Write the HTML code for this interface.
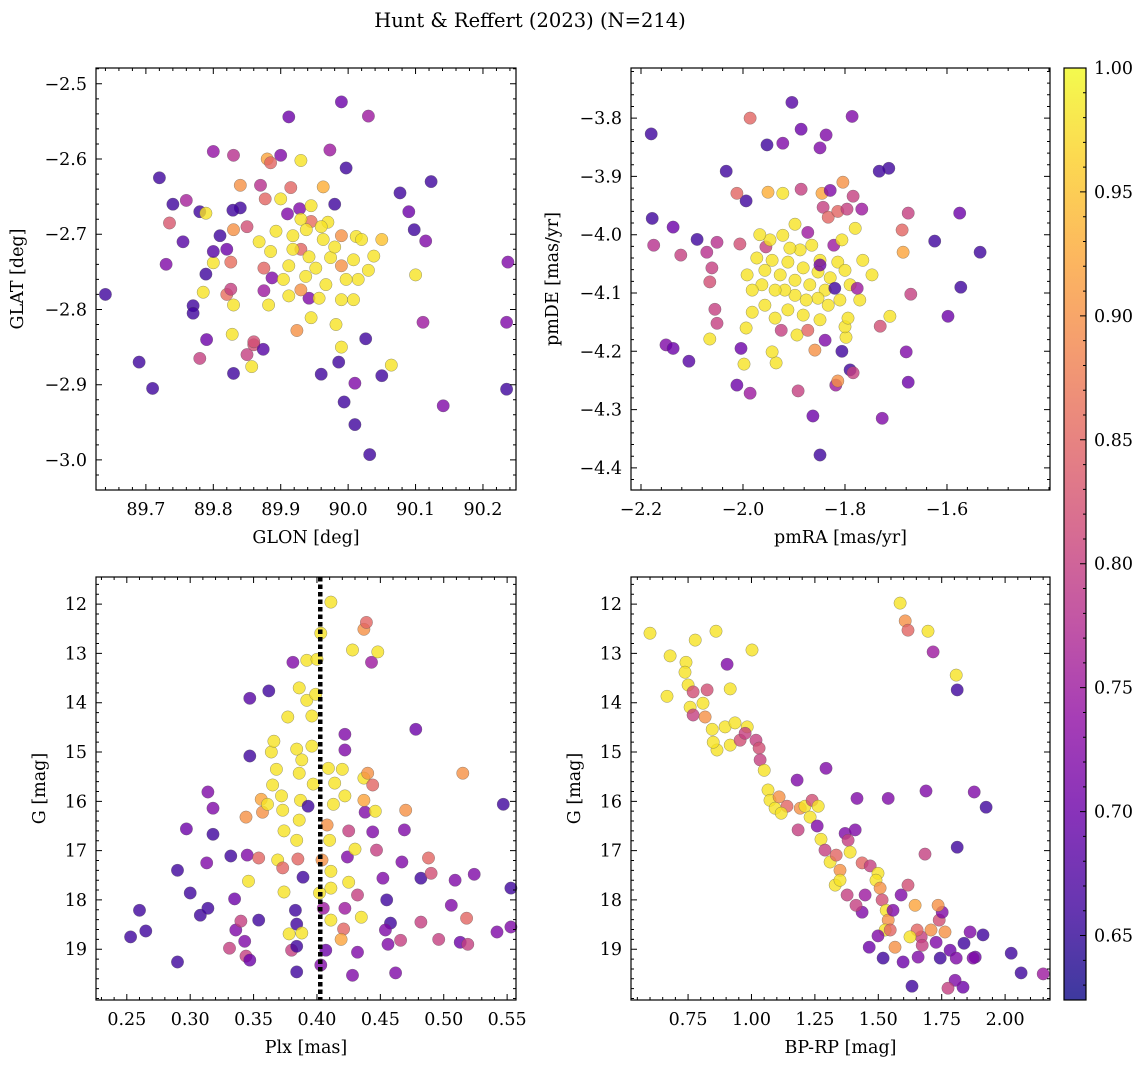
<!DOCTYPE html>
<html><head><meta charset="utf-8">
<style>
html,body{margin:0;padding:0;background:#fff;}
svg{display:block;font-family:"DejaVu Serif","Liberation Serif",serif;}
</style></head>
<body>
<svg id="fig" width="1148" height="1067" viewBox="0 0 1148 1067" xmlns="http://www.w3.org/2000/svg">
<defs>
<linearGradient id="cbgrad" x1="0" y1="1" x2="0" y2="0">
<stop offset="0" stop-color="#0d0887"/><stop offset="0.1" stop-color="#41049d"/><stop offset="0.2" stop-color="#6a00a8"/><stop offset="0.3" stop-color="#8f0da4"/><stop offset="0.4" stop-color="#b12a90"/><stop offset="0.5" stop-color="#cc4778"/><stop offset="0.6" stop-color="#e16462"/><stop offset="0.7" stop-color="#f2844b"/><stop offset="0.8" stop-color="#fca636"/><stop offset="0.9" stop-color="#fcce25"/><stop offset="1" stop-color="#f0f921"/>
</linearGradient>
</defs>
<text x="530" y="27" font-size="19.5" text-anchor="middle">Hunt &amp; Reffert (2023) (N=214)</text>
</svg>
<script>
// ---- Panel 1: GLON / GLAT ----
const p1Glon=[89.64,89.69,89.71,89.72,89.73,89.74,89.735,89.76,89.755,89.77,89.77,89.78,89.80,89.79,89.78,89.82,89.83,89.84,89.83,89.82,89.85,89.87,89.88,89.84,89.885,89.90,89.86,89.874,89.912,89.973,89.99,90.03,89.997,90.077,90.123,90.09,90.098,90.115,90.10,90.111,90.141,90.237,90.235,90.235,90.05,90.064,90.026,90.01,90.01,90.032,89.994,89.986,89.96,89.942,89.963,89.93,89.928,89.90,89.877,89.829,89.789,89.83,89.81,89.85,89.80,89.826,89.789,89.80,89.785,89.826,89.83,89.828,89.857,89.86,89.875,89.887,89.875,89.912,89.924,89.882,89.945,89.982,89.99,90.008,90.015,90.038,90.012,89.99,89.97,89.945,89.93,89.918,89.93,89.963,89.974,89.952,89.937,89.912,89.904,89.99,89.997,89.967,89.99,90.008,90.02,89.957,89.93,89.918,89.942,89.868,89.885,90.05,90.03,89.96,89.98,89.945,89.98,89.91,89.938,89.893,89.915];
const p1Glat=[-2.78,-2.87,-2.905,-2.625,-2.74,-2.66,-2.685,-2.655,-2.71,-2.795,-2.805,-2.865,-2.59,-2.84,-2.67,-2.72,-2.885,-2.665,-2.595,-2.78,-2.86,-2.635,-2.6,-2.635,-2.605,-2.595,-2.847,-2.853,-2.544,-2.588,-2.524,-2.543,-2.612,-2.645,-2.63,-2.67,-2.694,-2.709,-2.754,-2.817,-2.928,-2.737,-2.817,-2.906,-2.888,-2.874,-2.839,-2.898,-2.953,-2.993,-2.923,-2.87,-2.886,-2.785,-2.637,-2.602,-2.666,-2.653,-2.653,-2.668,-2.672,-2.694,-2.702,-2.69,-2.738,-2.737,-2.753,-2.723,-2.777,-2.773,-2.794,-2.833,-2.876,-2.843,-2.775,-2.758,-2.745,-2.782,-2.828,-2.794,-2.811,-2.82,-2.85,-2.787,-2.76,-2.729,-2.703,-2.702,-2.684,-2.683,-2.68,-2.702,-2.72,-2.707,-2.731,-2.745,-2.756,-2.742,-2.76,-2.742,-2.76,-2.767,-2.787,-2.734,-2.707,-2.785,-2.774,-2.72,-2.73,-2.71,-2.723,-2.707,-2.748,-2.69,-2.717,-2.662,-2.66,-2.673,-2.694,-2.696,-2.638];
const p1Prob=[0.66,0.66,0.66,0.66,0.72,0.66,0.83,0.76,0.68,0.66,0.66,0.8,0.74,0.7,0.66,0.7,0.66,0.66,0.78,0.86,0.8,0.78,0.92,0.9,0.85,0.72,0.82,0.68,0.7,0.75,0.7,0.75,0.66,0.66,0.66,0.7,0.66,0.72,0.98,0.75,0.72,0.72,0.72,0.66,0.66,0.98,0.66,0.72,0.66,0.66,0.66,0.66,0.66,0.72,0.93,0.98,0.72,0.98,0.85,0.66,0.98,0.9,0.66,0.82,0.98,0.86,0.66,0.68,0.98,0.8,0.98,0.98,0.98,0.82,0.75,0.72,0.85,0.98,0.9,0.98,0.98,0.98,0.98,0.98,0.98,0.98,0.98,0.9,0.98,0.86,0.98,0.98,0.85,0.98,0.98,0.98,0.98,0.98,0.98,0.9,0.98,0.98,0.98,0.98,0.98,0.98,0.9,0.98,0.98,0.98,0.98,0.95,0.98,0.98,0.98,0.98,0.66,0.72,0.98,0.98,0.85];
const p1XTicks=[89.7,89.8,89.9,90.0,90.1,90.2];
const p1YTicks=[-2.5,-2.6,-2.7,-2.8,-2.9,-3.0];

// ---- Panel 2: pmRA / pmDE ----
const p2Pmra=[-2.180,-2.178,-2.175,-2.137,-2.151,-2.137,-2.106,-2.122,-1.904,-1.986,-1.953,-1.922,-1.886,-1.849,-1.837,-1.786,-1.714,-1.733,-2.033,-1.994,-2.012,-1.951,-1.922,-1.886,-1.845,-1.829,-1.804,-1.843,-1.833,-1.814,-1.796,-1.767,-1.784,-2.090,-2.071,-2.051,-2.061,-2.006,-1.955,-1.922,-1.898,-1.873,-2.065,-2.055,-2.051,-2.065,-2.004,-1.994,-1.982,-1.998,-2.012,-1.986,-1.935,-1.943,-1.892,-1.863,-1.790,-1.784,-1.818,-1.814,-1.806,-1.798,-1.800,-1.849,-1.731,-1.712,-1.676,-1.686,-1.688,-1.676,-1.671,-1.680,-1.727,-1.624,-1.575,-1.573,-1.598,-1.535,
-1.973,-1.957,-1.943,-1.927,-1.912,-1.898,-1.882,-1.869,-1.853,-1.839,-1.829,-1.814,-1.800,-1.790,-1.810,-1.833,-1.853,-1.876,-1.898,-1.918,-1.937,-1.963,-1.982,-1.992,-1.888,-1.865,-1.849,-1.908,-1.947,-1.967,-1.822,-1.806,-1.780,-1.765,-1.747,-1.771,-1.794,-1.849,-1.882,-1.912,-1.937,-1.957,-1.894,-1.873,-1.839,-1.859,-1.925,-1.776,-1.849,-1.820];
const p2Pmde=[-3.827,-3.972,-4.018,-3.987,-4.189,-4.195,-4.217,-4.035,-3.773,-3.800,-3.846,-3.843,-3.819,-3.851,-3.829,-3.797,-3.886,-3.891,-3.891,-3.942,-3.929,-3.927,-3.929,-3.922,-3.929,-3.924,-3.910,-3.953,-3.970,-3.960,-3.956,-3.956,-3.934,-4.008,-4.030,-4.013,-4.057,-4.016,-4.021,-4.001,-3.982,-3.996,-4.081,-4.128,-4.152,-4.179,-4.195,-4.160,-4.133,-4.222,-4.258,-4.272,-4.220,-4.201,-4.268,-4.311,-4.232,-4.237,-4.258,-4.251,-4.200,-4.176,-4.158,-4.378,-4.157,-4.140,-4.253,-4.030,-3.992,-3.963,-4.102,-4.201,-4.315,-4.011,-3.963,-4.090,-4.140,-4.030,
-4.040,-4.061,-4.044,-4.069,-4.047,-4.078,-4.057,-4.086,-4.064,-4.095,-4.074,-4.047,-4.061,-4.086,-4.112,-4.121,-4.109,-4.112,-4.104,-4.095,-4.095,-4.086,-4.095,-4.069,-4.026,-4.018,-4.044,-4.023,-4.009,-4.000,-4.018,-4.009,-3.989,-4.044,-4.069,-4.112,-4.143,-4.146,-4.138,-4.129,-4.143,-4.121,-4.172,-4.164,-4.181,-4.198,-4.164,-4.092,-4.052,-4.092];
const p2Prob=[0.66,0.66,0.78,0.70,0.72,0.70,0.68,0.80,0.68,0.85,0.66,0.72,0.70,0.72,0.72,0.72,0.66,0.66,0.66,0.66,0.85,0.93,0.98,0.80,0.92,0.72,0.90,0.80,0.85,0.85,0.80,0.75,0.80,0.66,0.78,0.78,0.80,0.82,0.80,0.98,0.98,0.75,0.82,0.80,0.80,0.98,0.70,0.98,0.98,0.98,0.70,0.75,0.98,0.98,0.80,0.70,0.66,0.80,0.75,0.90,0.66,0.98,0.98,0.66,0.82,0.98,0.70,0.92,0.85,0.80,0.80,0.72,0.72,0.66,0.70,0.66,0.70,0.66,
0.98,0.98,0.98,0.98,0.98,0.98,0.98,0.98,0.98,0.98,0.98,0.98,0.98,0.98,0.98,0.98,0.98,0.98,0.98,0.98,0.98,0.98,0.98,0.98,0.98,0.98,0.98,0.98,0.98,0.98,0.75,0.98,0.98,0.98,0.98,0.98,0.98,0.98,0.98,0.98,0.98,0.98,0.98,0.85,0.72,0.90,0.80,0.75,0.70,0.66];
const p2XTicks=[-2.2,-2.0,-1.8,-1.6];
const p2YTicks=[-3.8,-3.9,-4.0,-4.1,-4.2,-4.3,-4.4];

// ---- Panel 3: Plx / G ----
const p3Plx=[0.253,0.265,0.260,0.290,0.290,0.297,0.300,0.308,0.314,0.313,0.314,0.318,0.318,0.331,0.332,0.335,0.336,0.340,0.343,0.344,0.347,0.344,0.347,0.347,0.345,0.346,0.354,0.354,0.357,0.356,0.361,0.365,0.362,0.364,0.366,0.368,0.372,0.373,0.374,0.369,0.373,0.374,0.380,0.378,0.377,0.381,0.386,0.384,0.386,0.388,0.387,0.386,0.384,0.385,0.383,0.384,0.384,0.384,0.388,0.392,0.392,0.393,0.389,0.396,0.397,0.396,0.399,0.400,0.403,0.411,0.404,0.402,0.405,0.411,0.407,0.403,0.410,0.408,0.411,0.411,0.409,0.413,0.414,0.420,0.422,0.422,0.422,0.425,0.424,0.425,0.422,0.421,0.419,0.428,0.432,0.435,0.432,0.430,0.438,0.437,0.437,0.440,0.444,0.443,0.437,0.439,0.448,0.428,0.446,0.444,0.447,0.452,0.455,0.458,0.454,0.456,0.462,0.466,0.467,0.469,0.470,0.478,0.482,0.482,0.488,0.490,0.496,0.506,0.509,0.513,0.519,0.518,0.524,0.542,0.547,0.553,0.553,0.515];
const p3G=[18.75,18.63,18.21,19.26,17.40,16.56,17.86,18.31,18.17,17.25,15.81,16.14,16.67,18.98,17.11,17.98,18.61,18.43,18.84,19.14,19.22,16.32,15.08,13.91,17.09,17.62,18.41,17.15,16.22,15.96,16.06,15.67,13.76,15.00,14.78,15.35,15.89,16.18,16.60,17.19,17.35,17.84,19.02,18.69,14.29,13.18,13.70,14.94,15.43,15.16,15.98,16.38,16.79,17.17,18.21,18.49,18.94,19.46,18.67,13.14,13.95,16.10,17.54,14.88,15.65,14.27,13.83,13.12,12.59,11.96,17.19,17.86,18.17,18.41,19.02,19.32,16.79,16.48,17.76,17.42,15.33,16.06,15.63,15.35,14.64,14.96,15.89,16.60,17.13,17.64,18.17,18.59,18.80,19.53,19.06,18.35,17.90,16.97,16.22,15.53,15.98,15.43,15.67,13.18,12.51,12.37,12.97,12.93,16.20,16.62,16.99,17.56,18.00,18.47,18.61,18.90,19.48,18.82,17.23,16.58,16.18,14.54,17.56,18.45,17.15,17.46,18.80,18.11,17.60,18.86,18.90,18.37,17.48,18.65,16.06,18.55,17.76,15.43];
const p3Prob=[0.66,0.66,0.66,0.66,0.66,0.70,0.66,0.66,0.66,0.72,0.72,0.72,0.66,0.80,0.66,0.70,0.72,0.80,0.72,0.80,0.70,0.90,0.66,0.68,0.72,0.98,0.66,0.85,0.90,0.92,0.98,0.98,0.66,0.98,0.98,0.98,0.98,0.98,0.98,0.98,0.85,0.98,0.80,0.98,0.98,0.72,0.98,0.98,0.98,0.98,0.98,0.98,0.98,0.85,0.66,0.66,0.66,0.66,0.98,0.98,0.98,0.66,0.66,0.98,0.98,0.98,0.98,0.98,0.98,0.98,0.90,0.98,0.75,0.98,0.70,0.72,0.98,0.90,0.98,0.98,0.98,0.98,0.98,0.98,0.72,0.72,0.98,0.80,0.72,0.98,0.75,0.85,0.92,0.72,0.72,0.98,0.80,0.98,0.72,0.98,0.92,0.90,0.85,0.75,0.90,0.85,0.98,0.98,0.98,0.72,0.80,0.72,0.66,0.66,0.72,0.72,0.72,0.80,0.72,0.72,0.90,0.70,0.66,0.80,0.85,0.82,0.80,0.72,0.72,0.70,0.80,0.85,0.72,0.72,0.66,0.72,0.66,0.90];
const p3XTicks=[0.25,0.30,0.35,0.40,0.45,0.50,0.55];
const p3YTicks=[12,13,14,15,16,17,18,19];
const p3MedianPlx=0.4026;

// ---- Panel 4: BP-RP / G ----
const p4Bprp=[0.600,0.667,0.679,0.742,0.738,0.750,0.778,0.758,0.770,0.825,0.770,0.860,0.904,0.916,0.809,0.817,0.845,0.864,0.849,0.896,0.935,0.916,0.955,0.983,1.002,0.975,1.018,1.030,1.034,1.050,1.065,1.073,1.093,1.109,1.140,1.117,1.184,1.180,1.192,1.211,1.239,1.263,1.231,1.259,1.274,1.290,1.310,1.334,1.349,1.369,1.381,1.409,1.416,1.389,1.330,1.349,1.377,1.436,1.468,1.499,1.491,1.448,1.436,1.412,1.507,1.515,1.531,1.539,1.527,1.547,1.464,1.519,1.499,1.566,1.558,1.590,1.617,1.645,1.669,1.653,1.625,1.673,1.708,1.728,1.740,1.752,1.736,1.763,1.783,1.807,1.744,1.838,1.862,1.882,1.834,1.913,1.803,1.598,1.633,1.657,1.775,1.586,1.606,1.617,1.696,1.716,1.811,1.807,1.539,1.294,1.688,1.878,1.925,1.811,1.684,1.874,2.024,2.063,2.150];
const p4G=[12.59,13.87,13.05,13.18,13.38,13.64,12.73,14.09,13.78,13.74,14.25,12.55,13.22,13.72,14.01,14.29,14.54,14.96,14.80,14.49,14.41,14.86,14.76,14.49,12.93,14.62,14.76,14.92,15.16,15.37,15.77,15.98,16.14,15.91,16.10,16.24,16.58,15.57,16.14,16.10,15.98,16.10,16.32,16.50,16.77,16.99,17.23,17.09,17.40,16.65,16.79,16.58,15.94,17.03,17.70,17.60,17.90,17.25,17.31,17.46,17.60,17.90,18.25,18.11,17.76,18.00,18.21,18.41,18.61,18.61,18.96,19.18,18.73,18.96,18.21,17.90,17.70,18.11,18.75,18.61,18.75,18.92,18.61,18.86,18.41,18.25,18.11,18.65,19.02,19.18,19.18,18.88,18.65,19.16,19.77,18.71,19.63,19.26,19.75,19.16,19.79,11.98,12.34,12.53,12.55,12.97,13.74,13.44,15.94,15.33,15.79,15.81,16.12,16.93,17.07,19.18,19.08,19.48,19.50];
const p4Prob=[0.98,0.98,0.98,0.98,0.98,0.98,0.98,0.98,0.82,0.82,0.80,0.98,0.72,0.98,0.98,0.90,0.98,0.98,0.98,0.98,0.98,0.98,0.82,0.98,0.98,0.80,0.80,0.82,0.80,0.98,0.98,0.98,0.98,0.90,0.85,0.98,0.80,0.72,0.90,0.98,0.82,0.98,0.98,0.72,0.98,0.80,0.98,0.85,0.90,0.72,0.80,0.72,0.72,0.98,0.98,0.98,0.80,0.85,0.80,0.98,0.98,0.75,0.72,0.80,0.90,0.82,0.98,0.90,0.98,0.85,0.70,0.66,0.72,0.90,0.72,0.72,0.82,0.92,0.80,0.85,0.98,0.80,0.90,0.72,0.82,0.72,0.90,0.90,0.70,0.72,0.66,0.66,0.72,0.70,0.70,0.66,0.72,0.70,0.66,0.72,0.80,0.98,0.90,0.85,0.98,0.75,0.66,0.98,0.72,0.72,0.72,0.72,0.66,0.66,0.80,0.72,0.66,0.66,0.75];
const p4XTicks=[0.75,1.00,1.25,1.50,1.75,2.00];
const p4YTicks=[12,13,14,15,16,17,18,19];

// ---- Colorbar ----
const cbMin=0.624, cbMax=1.0;
const cbTicks=[0.65,0.70,0.75,0.80,0.85,0.90,0.95,1.00];

const NS="http://www.w3.org/2000/svg";
const svg=document.getElementById('fig');
const FS=17.5;
const plasma=[[13,8,135],[65,4,157],[106,0,168],[143,13,164],[177,42,144],[204,71,120],[225,100,98],[242,132,75],[252,166,54],[252,206,37],[240,249,33]];
function cmap(v){
  let t=(v-cbMin)/(cbMax-cbMin); t=Math.max(0,Math.min(1,t));
  const f=t*10, i=Math.min(9,Math.floor(f)), r=f-i;
  const a=plasma[i], b=plasma[i+1];
  return 'rgb('+a.map((c,k)=>Math.round(c+(b[k]-c)*r)).join(',')+')';
}
function mk(tag,attrs,parent){
  const e=document.createElementNS(NS,tag);
  for(const k in attrs) e.setAttribute(k,attrs[k]);
  (parent||svg).appendChild(e); return e;
}
function fmt(v,d){ const s=Math.abs(v).toFixed(d); return (v<-1e-9?'\u2212':'')+s; }

function panel(cfg){
  const g=mk('g',{});
  
  
  const {x0,x1,y0,y1,xmin,xmax,ymin,ymax}=cfg;
  const sx=v=>x0+(v-xmin)/(xmax-xmin)*(x1-x0);
  const sy=v=>y1-(v-ymin)/(ymax-ymin)*(y1-y0);
  const inv=cfg.invertY;
  const syy=inv?(v=>y0+(v-ymax)/(ymin-ymax)*(y1-y0)):sy;
  const pg=mk('g',{},g);
  
  
  for(let i=0;i<cfg.xs.length;i++){
    const c=mk('circle',{cx:sx(cfg.xs[i]).toFixed(1),cy:syy(cfg.ys[i]).toFixed(1),r:6.2,fill:cmap(cfg.ps[i]),'fill-opacity':0.8,stroke:'#555','stroke-opacity':0.6,'stroke-width':0.5},pg);
    
    
  }
  if(cfg.vline!==undefined){
    const l=mk('line',{x1:sx(cfg.vline),x2:sx(cfg.vline),y1:y0,y2:y1,stroke:'#000','stroke-width':4.5,'stroke-dasharray':'4.5 3'},g);
    
    
  }
  const fr=mk('rect',{x:x0,y:y0,width:x1-x0,height:y1-y0,fill:'none',stroke:'#000','stroke-width':1.2},g);
  
  
  let d='';
  const eps=1e-9;
  for(let v=Math.ceil(xmin/cfg.xminor)*cfg.xminor; v<=xmax+eps; v+=cfg.xminor){
    const X=sx(v); d+=`M${X},${y1}v-3M${X},${y0}v3`;
  }
  for(const v of cfg.xt){const X=sx(v); d+=`M${X},${y1}v-6M${X},${y0}v6`;}
  const yl=Math.min(ymin,ymax), yh=Math.max(ymin,ymax);
  for(let v=Math.ceil(yl/cfg.yminor)*cfg.yminor; v<=yh+eps; v+=cfg.yminor){
    const Y=syy(v); d+=`M${x0},${Y}h3M${x1},${Y}h-3`;
  }
  for(const v of cfg.yt){const Y=syy(v); d+=`M${x0},${Y}h6M${x1},${Y}h-6`;}
  const tp=mk('path',{d:d,stroke:'#000','stroke-width':1,fill:'none'},g);
  
  
  for(const v of cfg.xt){
    const t=mk('text',{x:sx(v),y:y1+25,'font-size':FS,'text-anchor':'middle'},g);
    t.textContent=fmt(v,cfg.xd);
    
    
  }
  for(const v of cfg.yt){
    const t=mk('text',{x:x0-9,y:syy(v)+6,'font-size':FS,'text-anchor':'end'},g);
    t.textContent=fmt(v,cfg.yd);
    
    
  }
  const xl=mk('text',{x:(x0+x1)/2,y:y1+53,'font-size':FS,'text-anchor':'middle'},g);
  xl.textContent=cfg.xlabel;
  
  
  const ylx=cfg.ylabelX;
  const ylt=mk('text',{x:ylx,y:(y0+y1)/2,'font-size':FS,'text-anchor':'middle',transform:`rotate(-90 ${ylx} ${(y0+y1)/2})`},g);
  ylt.textContent=cfg.ylabel;
  
  
}

panel({name:'glon-glat-panel',x0:96,x1:516,y0:68,y1:490,xmin:89.626,xmax:90.249,ymin:-3.040,ymax:-2.479,xs:p1Glon,ys:p1Glat,ps:p1Prob,xt:p1XTicks,yt:p1YTicks,xminor:0.02,yminor:0.02,xd:1,yd:1,xlabel:'GLON [deg]',ylabel:'GLAT [deg]',ylabelX:23});
panel({name:'proper-motion-panel',x0:631,x1:1050,y0:68,y1:490,xmin:-2.2196,xmax:-1.398,ymin:-4.438,ymax:-3.714,xs:p2Pmra,ys:p2Pmde,ps:p2Prob,xt:p2XTicks,yt:p2YTicks,xminor:0.04,yminor:0.02,xd:1,yd:1,xlabel:'pmRA [mas/yr]',ylabel:'pmDE [mas/yr]',ylabelX:558});
panel({name:'parallax-mag-panel',x0:96,x1:516,y0:577,y1:1000,xmin:0.2257,xmax:0.557,ymin:20.03,ymax:11.45,invertY:true,xs:p3Plx,ys:p3G,ps:p3Prob,xt:p3XTicks,yt:p3YTicks,xminor:0.01,yminor:0.2,xd:2,yd:0,xlabel:'Plx [mas]',ylabel:'G [mag]',ylabelX:45,vline:p3MedianPlx});
panel({name:'cmd-panel',x0:631,x1:1050,y0:577,y1:1000,xmin:0.525,xmax:2.177,ymin:20.03,ymax:11.45,invertY:true,xs:p4Bprp,ys:p4G,ps:p4Prob,xt:p4XTicks,yt:p4YTicks,xminor:0.05,yminor:0.2,xd:2,yd:0,xlabel:'BP-RP [mag]',ylabel:'G [mag]',ylabelX:580});

(function(){
  const x0=1064,x1=1086,y0=68,y1=1000;
  const g=mk('g',{});
  
  
  const r=mk('rect',{x:x0,y:y0,width:x1-x0,height:y1-y0,fill:'url(#cbgrad)','fill-opacity':0.8},g);
  
  
  mk('rect',{x:x0,y:y0,width:x1-x0,height:y1-y0,fill:'none',stroke:'#000','stroke-width':1.2},g);
  const sy=v=>y1-(v-cbMin)/(cbMax-cbMin)*(y1-y0);
  let d='';
  for(let v=0.63; v<=1.0001; v+=0.01){ d+=`M${x1},${sy(v)}h-3`; }
  for(const v of cbTicks){ d+=`M${x1},${sy(v)}h-6`; }
  mk('path',{d:d,stroke:'#000','stroke-width':1},g);
  for(const v of cbTicks){
    const t=mk('text',{x:x1+8,y:sy(v)+6,'font-size':FS},g);
    t.textContent=v.toFixed(2);
    
    
  }
})();
</script>
</body></html>
